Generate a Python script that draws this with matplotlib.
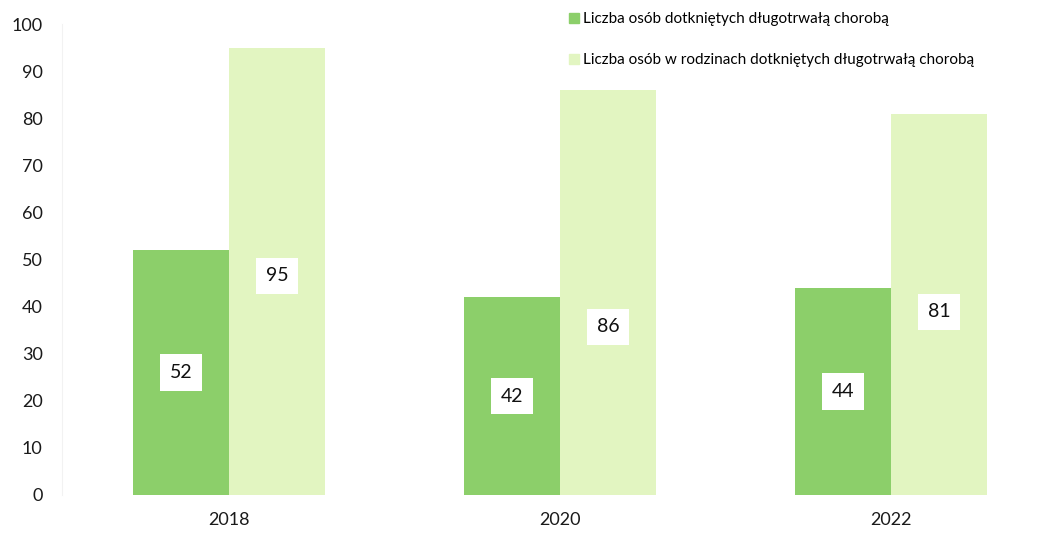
import matplotlib.pyplot as plt
from matplotlib.lines import Line2D
import numpy as np

plt.rcParams['font.family'] = ['Lato', 'DejaVu Sans']

years = ['2018', '2020', '2022']
persons = [52, 42, 44]
families = [95, 86, 81]
series_names = ['Liczba osób dotkniętych długotrwałą chorobą',
                'Liczba osób w rodzinach dotkniętych długotrwałą chorobą']

dark = '#8CCF6A'
light = '#E2F5C1'

fig = plt.figure(figsize=(10.46, 5.36), dpi=100)
ax = fig.add_axes([0.0593, 0.0765, 0.9407, 0.8785])

x = np.arange(len(years))
w = 0.29
ax.bar(x - w / 2, persons, w, color=dark)
ax.bar(x + w / 2, families, w, color=light)

# value boxes inside the bars
dark_pos = [0.5, 0.5, 0.5]
light_pos = [0.49, 0.415, 0.48]
box = dict(boxstyle='square,pad=0.5', fc='white', ec='none')
for i in range(len(years)):
    ax.text(x[i] - w / 2, persons[i] * dark_pos[i], str(persons[i]),
            ha='center', va='center', fontsize=14, color='#111111', bbox=box)
    ax.text(x[i] + w / 2, families[i] * light_pos[i], str(families[i]),
            ha='center', va='center', fontsize=14, color='#111111', bbox=box)

ax.set_xlim(-0.505, 2.468)
ax.set_ylim(0, 100)
ax.set_yticks(range(0, 101, 10))
ax.set_xticks(x)
ax.set_xticklabels(years)
ax.tick_params(length=0, labelsize=13, colors='#1a1a1a')
ax.tick_params(axis='y', pad=14)
ax.tick_params(axis='x', pad=12)
for s in ['top', 'right', 'bottom']:
    ax.spines[s].set_visible(False)
ax.spines['left'].set_color('#f2f2f2')

handles = [Line2D([], [], ls='none', marker='s', ms=7, color=dark),
           Line2D([], [], ls='none', marker='s', ms=7, color=light)]
fig.legend(handles, series_names, loc='upper left',
           bbox_to_anchor=(0.528, 1.003), frameon=False, fontsize=11,
           handletextpad=0.1, handlelength=1.0, labelspacing=1.75)

fig.savefig('out.png', dpi=100)
